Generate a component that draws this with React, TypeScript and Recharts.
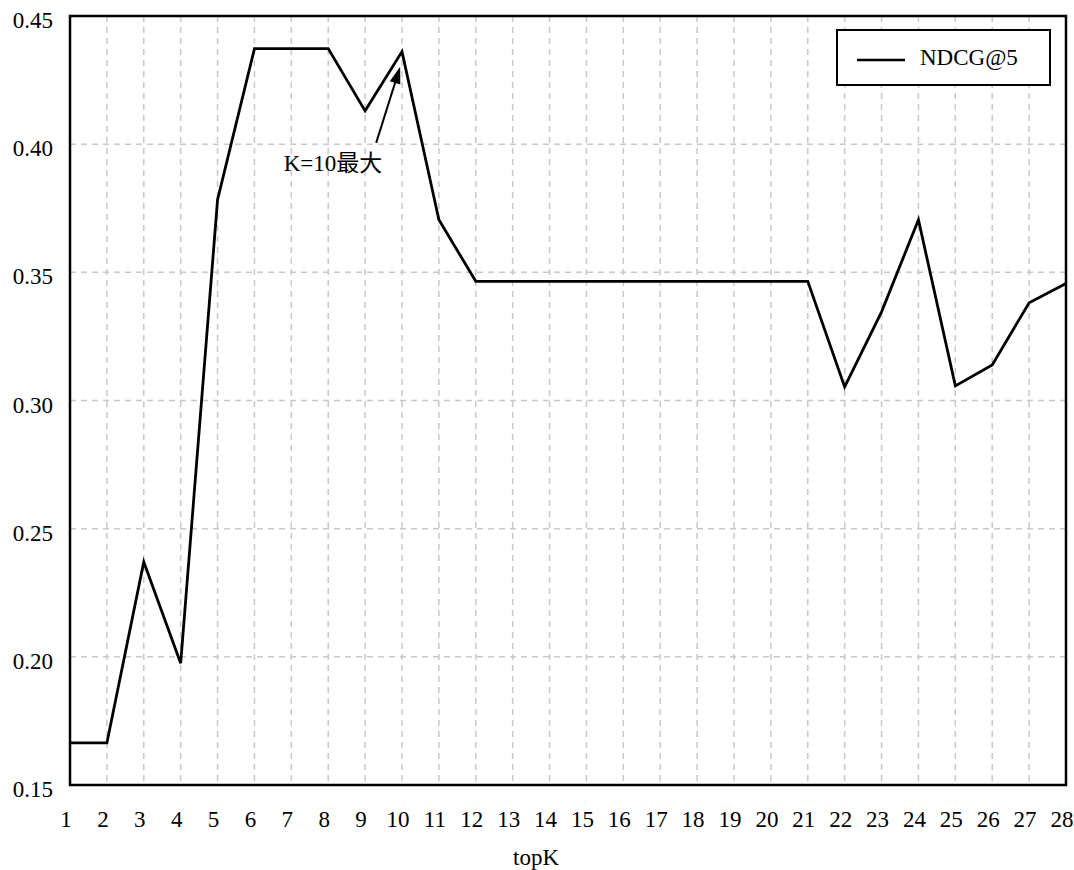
import React from 'react';
import { LineChart, Line, XAxis, YAxis, CartesianGrid, Legend, ReferenceArea, ReferenceLine, ReferenceDot } from 'recharts';

const topK = [1, 2, 3, 4, 5, 6, 7, 8, 9, 10, 11, 12, 13, 14, 15, 16, 17, 18, 19, 20, 21, 22, 23, 24, 25, 26, 27, 28];
const ndcg5 = [0.1664, 0.1664, 0.237, 0.1975, 0.3783, 0.4373, 0.4373, 0.4373, 0.413, 0.4361, 0.3705, 0.3465, 0.3465, 0.3465, 0.3465, 0.3465, 0.3465, 0.3465, 0.3465, 0.3465, 0.3465, 0.3053, 0.3346, 0.3705, 0.3057, 0.3139, 0.3381, 0.3456];
const yTicks = [0.15, 0.2, 0.25, 0.3, 0.35, 0.4, 0.45];
const seriesName = 'NDCG@5';
const xAxisTitle = 'topK';
const annotationText = 'K=10最大';
const arrowTail = { x: 9.3, y: 0.4005 };
const arrowTip = { x: 9.95, y: 0.4302 };
const textAnchorPoint = { x: 8.13, y: 0.3923 };

const data = topK.map((k, i) => ({ k, v: ndcg5[i] }));

const FONT = '"Liberation Serif", "Noto Sans CJK SC", serif';

const Arrow = (props: any) => {
  const { x1, y1, x2, y2 } = props;
  const dx = x2 - x1;
  const dy = y2 - y1;
  const len = Math.sqrt(dx * dx + dy * dy);
  const ux = dx / len;
  const uy = dy / len;
  const headLen = 17;
  const headW = 5.5;
  const bx = x2 - ux * headLen;
  const by = y2 - uy * headLen;
  const px = -uy;
  const py = ux;
  return (
    <g>
      <line x1={x1} y1={y1} x2={bx + ux * 2} y2={by + uy * 2} stroke="#000" strokeWidth={2} />
      <polygon
        points={`${x2},${y2} ${bx + px * headW},${by + py * headW} ${bx - px * headW},${by - py * headW}`}
        fill="#000"
      />
    </g>
  );
};

const AnnotationText = (props: any) => {
  const { cx, cy } = props;
  return (
    <text x={cx} y={cy} textAnchor="middle" dominantBaseline="central" fontFamily={FONT} fontSize={23} fill="#000">
      {annotationText}
    </text>
  );
};

const XTitle = (props: any) => {
  const { viewBox } = props;
  const cx = viewBox.x + viewBox.width / 2 - 32;
  return (
    <text x={cx} y={865} textAnchor="middle" fontFamily={FONT} fontSize={23} fill="#000">
      {xAxisTitle}
    </text>
  );
};

const LegendBox = () => (
  <div
    style={{
      position: 'relative',
      width: 215,
      height: 57,
      border: '2px solid #000',
      background: '#fff',
      boxSizing: 'border-box',
      fontFamily: FONT,
      fontSize: 23,
      color: '#000',
    }}
  >
    <svg width={60} height={10} style={{ position: 'absolute', left: 17, top: 24 }}>
      <line x1={2} y1={5} x2={50} y2={5} stroke="#000" strokeWidth={2.5} />
    </svg>
    <span style={{ position: 'absolute', left: 82, top: 12, lineHeight: '30px', whiteSpace: 'nowrap' }}>{seriesName}</span>
  </div>
);

export default function App() {
  return (
    <div style={{ position: 'absolute', left: 0, top: 0, background: '#fff' }}>
      <LineChart width={1074} height={870} data={data} margin={{ top: 16, right: 8, bottom: 25, left: 0 }}>
        <CartesianGrid stroke="#c8c8c8" strokeDasharray="6 5" strokeWidth={1.5} />
        <XAxis
          dataKey="k"
          type="number"
          domain={[1, 28]}
          ticks={topK}
          allowDecimals={false}
          axisLine={false}
          tickLine={false}
          tickSize={0}
          tickMargin={26}
          height={60}
          interval={0}
          tick={{ fill: '#000', fontFamily: FONT, fontSize: 23, dx: -4 }}
          label={<XTitle />}
        />
        <YAxis
          type="number"
          domain={[0.15, 0.45]}
          ticks={yTicks}
          tickFormatter={(v: number) => v.toFixed(2)}
          axisLine={false}
          tickLine={false}
          tickSize={0}
          tickMargin={17}
          width={70}
          interval={0}
          tick={{ fill: '#000', fontFamily: FONT, fontSize: 23, dy: 4 }}
        />
        <ReferenceArea x1={1} x2={28} y1={0.15} y2={0.45} fill="none" stroke="#000" strokeWidth={2.5} ifOverflow="visible" />
        <Line
          dataKey="v"
          name={seriesName}
          stroke="#000"
          strokeWidth={2.8}
          dot={false}
          activeDot={false}
          isAnimationActive={false}
          strokeLinejoin="miter"
        />
        <ReferenceLine segment={[arrowTail, arrowTip]} shape={<Arrow />} ifOverflow="visible" />
        <ReferenceDot x={textAnchorPoint.x} y={textAnchorPoint.y} r={0} shape={<AnnotationText />} ifOverflow="visible" />
        <Legend
          layout="vertical"
          align="center"
          verticalAlign="middle"
          wrapperStyle={{ position: 'absolute', left: 836, top: 29, width: 215 }}
          content={() => <LegendBox />}
        />
      </LineChart>
    </div>
  );
}
